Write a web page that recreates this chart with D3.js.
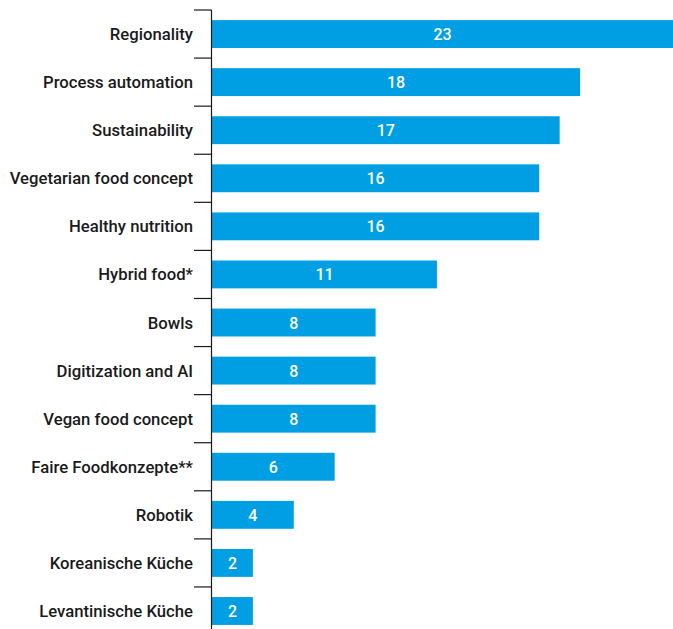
<!DOCTYPE html>
<html>
<head>
<meta charset="utf-8">
<script src="https://cdn.jsdelivr.net/npm/d3@7"></script>
<style>
  html, body { margin: 0; padding: 0; background: #fff; }
  svg { display: block; }
</style>
</head>
<body>
<div id="chart"></div>
<script>
(function () {
  "use strict";

  const categories = [
    "Regionality", "Process automation", "Sustainability", "Vegetarian food concept",
    "Healthy nutrition", "Hybrid food*", "Bowls", "Digitization and AI",
    "Vegan food concept", "Faire Foodkonzepte**", "Robotik",
    "Koreanische Küche", "Levantinische Küche"
  ];
  const values = [23, 18, 17, 16, 16, 11, 8, 8, 8, 6, 4, 2, 2];

  const WIDTH = 673, HEIGHT = 629;
  const LEFT = 212, TOP = 10;
  const BAR_COLOR = "#009fe3";
  const FONT = "Roboto, 'Liberation Sans', Arial, sans-serif";

  const svg = d3.select("#chart").append("svg")
    .attr("width", WIDTH)
    .attr("height", HEIGHT);

  const x = d3.scaleLinear().domain([0, 23]).range([LEFT, LEFT + 20.45 * 23]);
  const y = d3.scaleBand().domain(categories)
    .range([TOP, TOP + 48.08 * categories.length])
    .paddingInner(0.42).paddingOuter(0.21);

  // Bars
  svg.append("g").selectAll("rect")
    .data(values)
    .enter().append("rect")
    .attr("x", x(0))
    .attr("y", (d, i) => y(categories[i]))
    .attr("width", d => x(d) - x(0))
    .attr("height", y.bandwidth())
    .attr("fill", BAR_COLOR);

  // Value labels
  svg.append("g").selectAll("text")
    .data(values)
    .enter().append("text")
    .attr("x", d => (x(0) + Math.min(x(d), WIDTH)) / 2)
    .attr("y", (d, i) => y(categories[i]) + y.bandwidth() / 2 + 6)
    .attr("text-anchor", "middle")
    .attr("font-family", FONT)
    .attr("font-size", "16px")
    .attr("font-weight", "500")
    .attr("fill", "#fff")
    .text(d => d);

  // Axis line with ticks between categories
  const axis = svg.append("g").attr("stroke", "#1a1a1a").attr("stroke-width", 1.2);
  axis.append("line")
    .attr("x1", LEFT - 0.5).attr("x2", LEFT - 0.5)
    .attr("y1", TOP).attr("y2", y.range()[1]);
  const step = y.step();
  axis.selectAll("line.tick")
    .data(d3.range(categories.length + 1))
    .enter().append("line")
    .attr("class", "tick")
    .attr("x1", LEFT - 18).attr("x2", LEFT - 0.5)
    .attr("y1", i => TOP + i * step).attr("y2", i => TOP + i * step);

  // Category labels
  svg.append("g").selectAll("text")
    .data(categories)
    .enter().append("text")
    .attr("x", LEFT - 19)
    .attr("y", d => y(d) + y.bandwidth() / 2 + 6)
    .attr("text-anchor", "end")
    .attr("font-family", FONT)
    .attr("font-size", "16.7px")
    .attr("font-weight", "500")
    .attr("fill", "#1a1a1a")
    .text(d => d);
})();
</script>
</body>
</html>
